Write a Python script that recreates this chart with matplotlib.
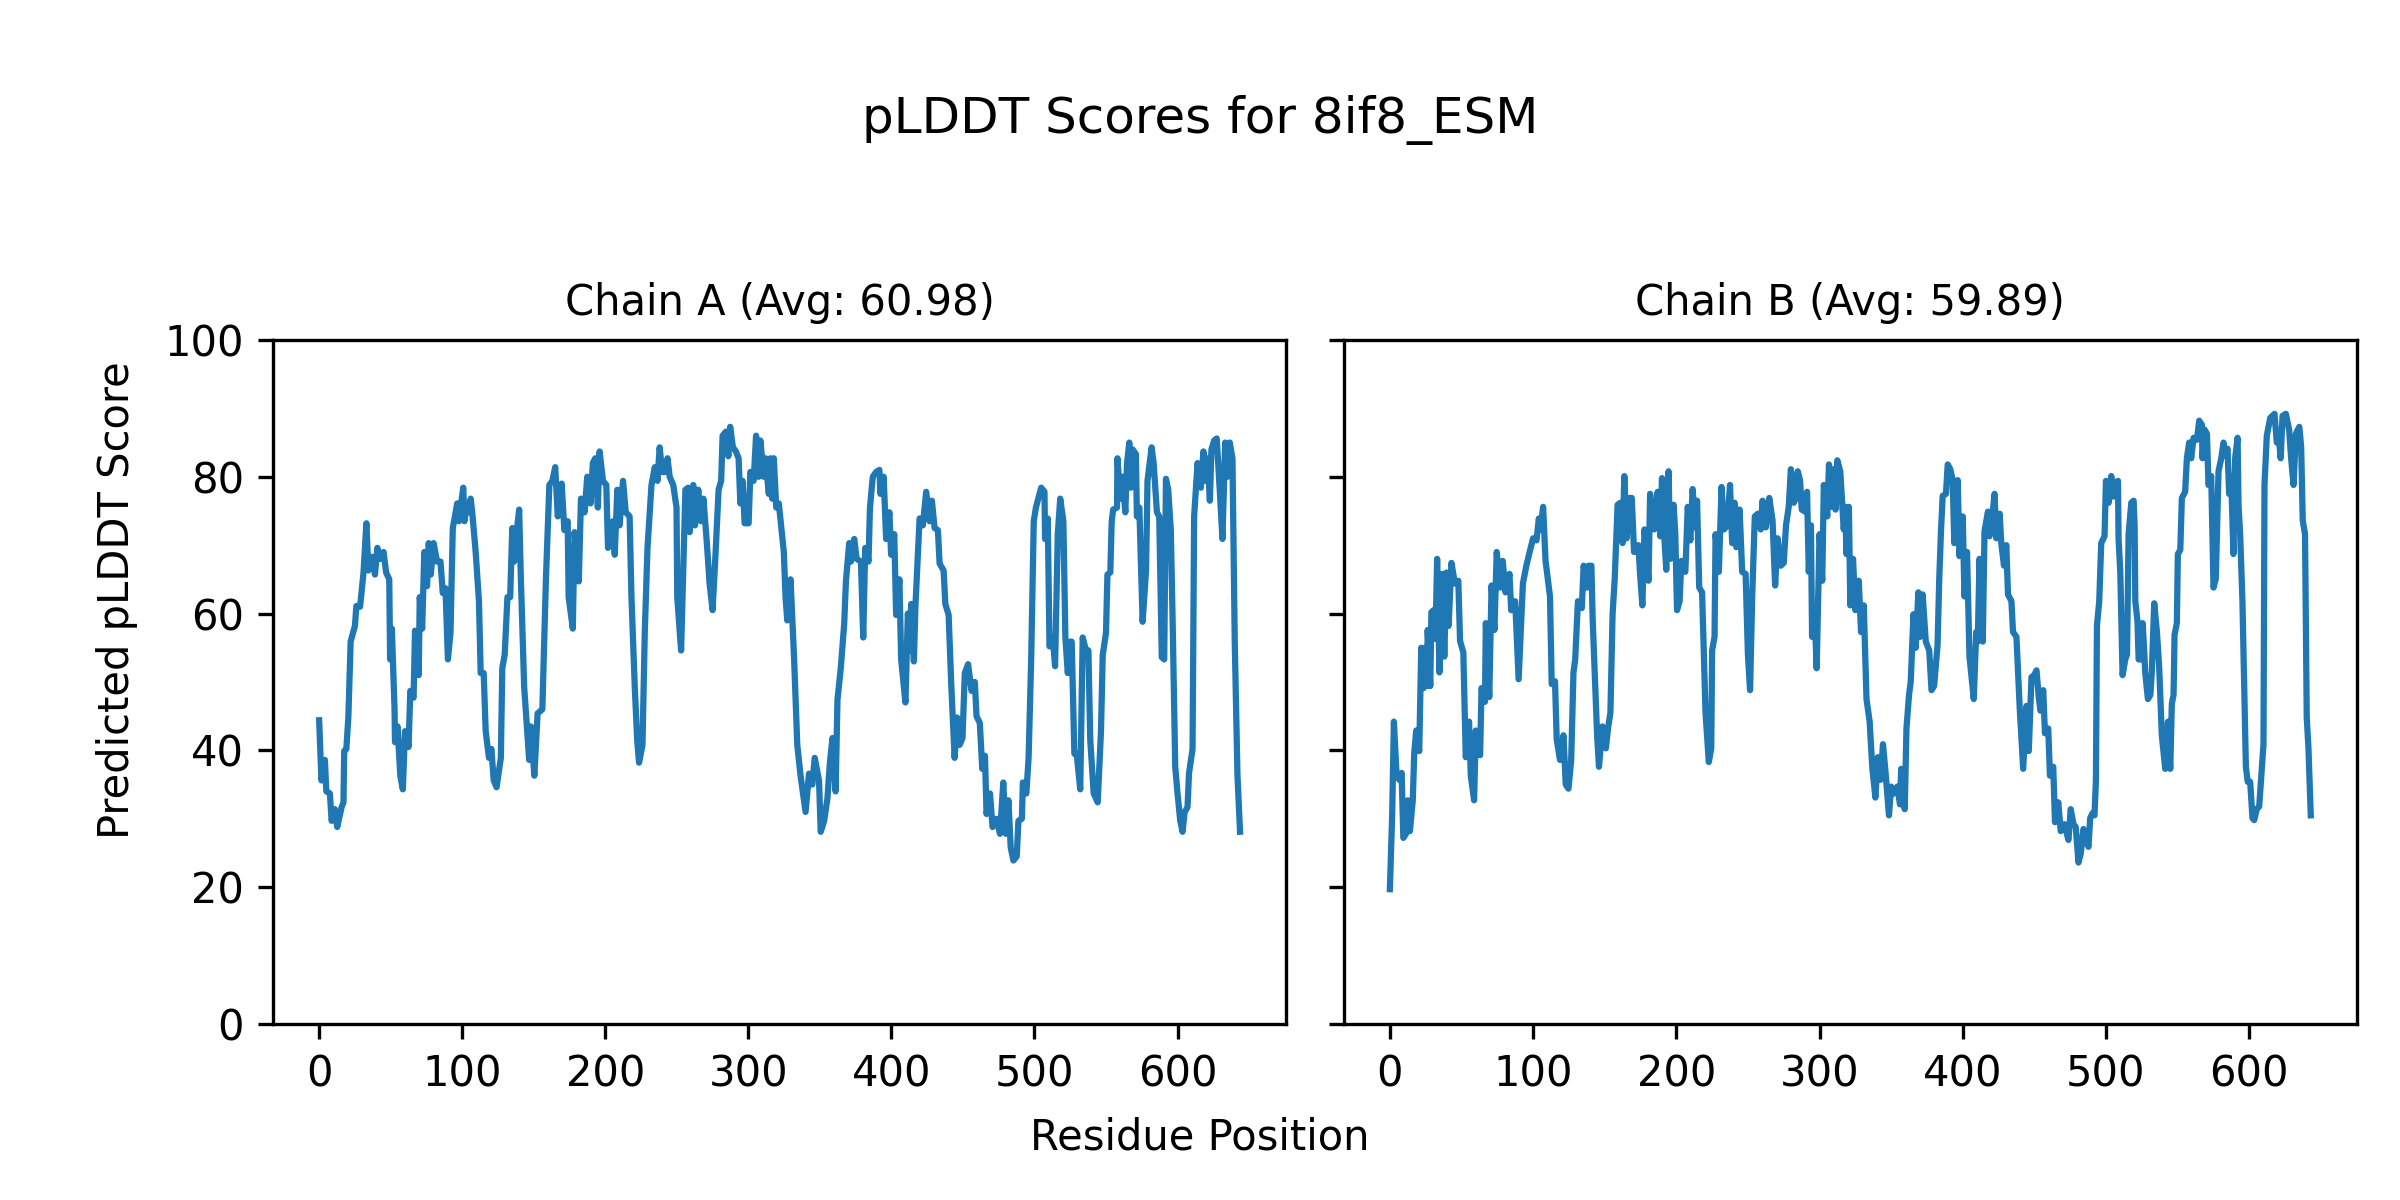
import matplotlib
matplotlib.use('Agg')
import matplotlib.pyplot as plt

# Datos (posicion del residuo, pLDDT)
chain_a_pos = [
    0, 1.6, 4, 5, 7.5, 8.7, 11, 12.6, 15.7, 17, 17.5, 19, 20.4, 22, 25, 26, 28.6, 31, 33, 34.4,
    36.8, 39, 40.7, 42.6, 45, 46.8, 49, 49.6, 50.8, 52.7, 53, 54.8, 56.7, 58.5, 60, 62.5, 63.7, 66, 67, 69.6,
    70.3, 72, 73.5, 75.4, 76.6, 78, 80, 82.4, 84.8, 86.4, 88.3, 90, 91.8, 93.4, 96.5, 97.7, 100.7, 101.6, 103, 104.7,
    105.9, 107, 109.4, 111.7, 112.9, 115, 116.4, 118.7, 120.4, 122, 124, 127, 128, 129.7, 131.6, 133.5, 135, 136.3, 138, 139.8,
    141, 143.3, 145, 146.8, 148, 150.4, 152.7, 156, 158.5, 160.9, 163, 165, 166.8, 169.5, 171.4, 173.7, 174.4, 177.3, 178.5, 181.5,
    183, 185.5, 187.4, 189.7, 191.3, 193, 194.8, 196, 198.4, 200.7, 201.9, 204, 205.4, 206.6, 208.4, 210, 212.4, 214.3, 217, 218.3,
    220.6, 222.3, 223.6, 226, 227.6, 229.5, 231, 232.3, 234.6, 236.5, 238, 239.8, 241.7, 243.5, 245, 247.5, 249.8, 250.3, 253, 254.5,
    256, 258, 259, 261.5, 262.7, 265, 266.9, 268.6, 271, 272.9, 275, 276.8, 279.2, 281, 282, 284.3, 286, 287.3, 289.2, 291.3,
    293.2, 294.4, 296, 297.4, 300.2, 301.4, 303.7, 305.4, 307.3, 308.4, 310.8, 312, 314.3, 315.5, 316.7, 317.8, 319.5, 321.3, 324.8, 326,
    327.2, 329.5, 332, 334.2, 336.5, 340, 342.4, 344.7, 346.4, 349.4, 350.6, 353, 355.3, 357, 358.8, 361, 362.3, 364.6, 367, 368.2,
    370.5, 371.7, 374, 375.7, 378.7, 380.3, 381.7, 384, 385, 387, 389.3, 391.6, 392.3, 394.6, 396.3, 398.6, 399.8, 402, 403.3, 405.6,
    406.8, 409.8, 411.5, 413, 413.8, 415.7, 416.8, 419.7, 422, 424.3, 426.7, 428.3, 430.2, 432.5, 433.7, 436.5, 437.7, 440, 441.9, 444.2,
    445.9, 447.7, 449.7, 451.3, 453.6, 456, 458.3, 459.5, 461.8, 463.5, 465.4, 466.5, 468.9, 470.7, 473.5, 475.9, 478.2, 480, 481.8, 483.4,
    485.3, 487.6, 488.8, 491.2, 491.9, 494.3, 495.9, 497.7, 499.5, 501, 503.5, 504.7, 507, 507.4, 509.3, 510.5, 512.8, 514.4, 516.3, 518,
    520.2, 521.6, 523.3, 525, 526, 527.9, 529.5, 532, 533.7, 536, 537.7, 539, 541.4, 544.2, 546.5, 547.7, 550, 551, 553, 554,
    555, 557.7, 558, 560, 561.6, 563.5, 564.7, 566.3, 567.4, 568.6, 570.9, 571.6, 573.3, 575.6, 578, 579, 581.9, 583.3, 585.6, 587.2,
    589, 590.7, 591.9, 593.5, 595.3, 596.5, 598.4, 600, 601.9, 603.5, 605, 607, 608, 610.5, 611.6, 614, 616.3, 618.1, 619.8, 621,
    622.6, 623.7, 625.6, 627.4, 629.5, 631.4, 633.3, 634.9, 636.5, 638.4, 640, 641.9, 643.7,
]
chain_a_score = [
    44.4, 35.6, 38.6, 34, 33.7, 29.7, 31.4, 28.8, 31.7, 32.4, 39.9, 40.2, 44.8, 55.9, 58.2, 61.1, 61, 66, 73.2, 66.3,
    68.3, 65.7, 69.6, 68, 69, 66, 65, 53.3, 57.8, 46, 41.2, 43.5, 36.3, 34.3, 42.8, 40.5, 48.7, 47.7, 57.5, 51,
    62.4, 57.8, 69, 64, 70.3, 65.7, 70.3, 67.6, 67.6, 63, 63.7, 53.3, 57.2, 72.5, 76.1, 73.5, 78.4, 73.5, 76, 74.8,
    76.8, 74.8, 69, 61.8, 51.3, 51.3, 42.8, 38.9, 40.2, 35.6, 34.6, 38.9, 52, 54, 62.4, 62.4, 72.5, 67.6, 71.9, 75.2,
    65, 49.3, 44, 38.6, 43.5, 36.3, 45.4, 46, 65, 78.8, 79.4, 81.4, 74.2, 79, 72.2, 73.5, 62.4, 57.8, 71.9, 64.7,
    76.8, 74.8, 80, 76.1, 82, 82.7, 75.5, 83.7, 79.4, 78.8, 69.6, 70.3, 73.5, 68.6, 78.1, 72.9, 79.4, 74.8, 74.2, 62.4,
    49.3, 41.5, 38.2, 40.8, 57.2, 69.6, 74.5, 78.8, 81.4, 79.4, 84.3, 80.7, 80.7, 82.7, 80, 78.8, 75.5, 62.4, 54.6, 66.3,
    78.1, 78.4, 71.9, 78.8, 72.9, 78.1, 73.5, 76.8, 70.3, 64.4, 60.5, 67.6, 78.1, 79.4, 86, 86.6, 83, 87.3, 84.3, 83.7,
    82.7, 76.1, 79.4, 73.2, 73.2, 80.7, 79.4, 86, 80, 85.3, 80, 82.7, 77.5, 82.7, 76.8, 82.7, 75.5, 76.1, 69, 62.4,
    59, 65, 53.3, 40.8, 36.3, 31, 36.6, 35, 38.9, 35.6, 28.1, 29.7, 33, 38.2, 41.8, 34, 47.4, 52, 58.5, 64.7,
    70.3, 67.6, 70.9, 68, 67.6, 56.5, 69.6, 67.6, 75.5, 80, 80.7, 81, 77.5, 80, 70.9, 74.8, 68.6, 71.6, 59.8, 65,
    53.3, 47, 60, 54.6, 61.4, 53, 61.1, 73.9, 72.9, 77.8, 73.5, 76.5, 72.5, 72.2, 67.3, 66.3, 61.4, 59.8, 49.3, 38.9,
    44.8, 40.8, 41.8, 51.3, 52.6, 48.7, 50, 45, 44, 37.3, 39.2, 30.7, 33.7, 28.8, 30, 27.8, 35.3, 27.8, 32.7, 25.8,
    23.9, 24.5, 29.7, 30, 35.3, 33.7, 38.9, 53.3, 73.5, 75.5, 77.5, 78.4, 77.8, 70.9, 73.9, 55.2, 56.5, 52.3, 71.6, 76.8,
    73.5, 56.5, 51.3, 55.9, 55.9, 39.5, 39.5, 34.3, 56.5, 54.6, 54.6, 41.5, 33.7, 32.4, 42.8, 53.9, 57.2, 65.7, 66, 73.5,
    75.2, 75.5, 82.7, 76.8, 80, 74.8, 82, 85, 78.4, 84, 83.3, 74.2, 75.5, 58.8, 66.3, 79.4, 84.3, 82, 74.8, 74.2,
    53.6, 53.3, 79.7, 78.1, 72.2, 59.8, 37.6, 33.7, 29.7, 28.1, 31, 31.7, 36.6, 40.2, 74.2, 82, 78.4, 83.7, 79.4, 82.7,
    76.5, 84, 85.3, 85.6, 78.1, 70.9, 85, 80, 85, 82.7, 55.9, 36.3, 28.1,
]

chain_b_pos = [
    0, 1.6, 2.8, 4.7, 6.6, 8.2, 9.4, 11.3, 12.5, 14, 16, 17, 18.4, 20.5, 21.9, 23.5, 24.7, 25.9, 26.4, 28.2,
    29, 30.6, 31.8, 33, 34.6, 36.5, 38, 39.5, 41, 43, 45.4, 47.8, 49, 51.3, 53, 55.3, 56.5, 58.8, 60, 63,
    64, 66.4, 67, 69.4, 71, 73, 74.6, 77, 78.8, 80.7, 83.5, 84.7, 87.5, 89.9, 92.9, 95.3, 97.6, 100, 102.4, 104,
    105.2, 107, 108.7, 111.8, 113, 115.3, 116.5, 118.8, 121.2, 122.8, 124.7, 126.6, 128.2, 129.4, 131.3, 134, 135.3, 137.6, 138.8, 140.7,
    141.6, 143, 144.7, 146, 148.4, 150.8, 152.5, 154, 155.5, 157, 159, 161, 162.5, 163.7, 165.3, 167.2, 168.9, 170.5, 173.5, 174.7,
    176.3, 177.8, 180.6, 181.7, 184.5, 187, 188.8, 190, 191.6, 193, 194.6, 195.8, 198.1, 199.3, 200.5, 202.3, 203.5, 206.3, 208, 209.8,
    211.4, 213.3, 214.5, 216, 218, 220.4, 222.7, 224.4, 225, 226.7, 227.4, 229.7, 231.6, 233.3, 235.6, 237.5, 239, 240.7, 241.9, 244.2,
    246, 248.4, 250, 251.5, 253, 254.8, 257, 259, 260.2, 262.5, 264.9, 267.2, 269, 270.7, 273, 275, 276.6, 278.5, 280, 282,
    283.6, 284.8, 286.4, 287.6, 289.9, 291.3, 292.5, 294, 294.8, 296.5, 298, 300, 301.9, 303, 305.4, 306.6, 308.7, 309.8, 311.2, 312.4,
    314.5, 316.9, 318, 318.8, 320.5, 321.5, 323.4, 325, 327.4, 329, 330.9, 332.8, 335, 336.8, 339, 340.7, 342.6, 344.3, 346, 348.5,
    350, 352, 354.3, 356.2, 357, 359.5, 360.7, 362.5, 363.7, 365.6, 367.2, 369, 370.3, 372, 374.2, 376.6, 378.2, 380, 382.4, 383.6,
    384.8, 386, 388.3, 389.5, 391.3, 393, 394.1, 396.5, 397.7, 400, 401.2, 403, 404.7, 407.7, 409.4, 410.5, 411.7, 414, 415.2, 417.6,
    418.7, 421, 422.2, 423.4, 425.8, 426.9, 428.8, 430.4, 431.6, 434, 435.1, 437.5, 439.8, 442.2, 444.5, 446.1, 448, 449.9, 451.5, 453.2,
    454.3, 456.2, 457.4, 459.7, 460.9, 463.2, 464.4, 466.7, 468.4, 471, 473.8, 475.4, 477.3, 478.9, 480.8, 482.4, 484.3, 485.9, 487.8, 489,
    490.6, 492, 493, 493.7, 495.3, 496.7, 499, 500, 501.9, 503.7, 505.3, 506.5, 508.4, 508.8, 510, 511.6, 513.5, 514.7, 515.8, 517.7,
    519.3, 520, 520.5, 522, 522.8, 524.7, 525.6, 526.7, 527.4, 529.3, 531, 532, 533.7, 535.6, 537.2, 539, 541.4, 543.3, 544.9, 546,
    547.2, 547.9, 549.5, 550.2, 551.9, 553, 555.3, 556.5, 558.1, 559.5, 561.2, 563.5, 565.1, 567, 567.4, 568.8, 570.5, 571.6, 573.5, 575.1,
    576.7, 578.6, 580.5, 582.1, 583.3, 584.9, 586, 587.4, 589, 590.2, 591.9, 592.6, 593.7, 595.3, 597.7, 599, 600.7, 602.3, 603.5, 605.3,
    607, 610, 610.7, 612.3, 614.7, 617.7, 619.3, 621, 622, 623.3, 625.6, 627.9, 629.3, 631, 632.6, 635, 636.3, 637.4, 639, 640.2,
    641.4, 643,
]
chain_b_score = [
    19.7, 30.5, 44.2, 36.3, 35.7, 36.7, 27.2, 27.8, 32.7, 28.2, 32.7, 39.6, 42.9, 39.9, 55, 49.1, 55, 49.4, 57.6, 49.4,
    60.2, 60.5, 56.3, 68, 51.4, 65.8, 53.7, 66, 58.2, 67.4, 64.4, 64.8, 56, 54.3, 39, 44.2, 36.3, 32.7, 42.9, 39.3,
    49.1, 47.1, 58.6, 47.8, 64.1, 57.6, 69, 63.8, 67.7, 63.1, 65.8, 60.5, 61.8, 50.4, 64.4, 67, 69, 71, 70.7, 73.9,
    72.3, 75.6, 67.7, 62.5, 49.7, 50.1, 41.6, 38.6, 42.2, 35, 34.4, 38.6, 51.4, 53.3, 61.8, 60.8, 67, 63.8, 67, 67,
    59.2, 51.4, 42.2, 37.6, 43.5, 40.3, 43.5, 45.5, 59.9, 65.1, 75.9, 76.2, 70.3, 80.1, 71, 76.9, 76.9, 69, 70, 65.8,
    61.2, 72.3, 64.8, 77.5, 72.3, 77.8, 71.3, 79.8, 71.3, 66.4, 80.8, 68, 75.9, 71.6, 60.5, 61.8, 67.7, 66.1, 75.6, 70.7,
    78.2, 72.6, 76.5, 63.8, 63.1, 45.5, 38.3, 40.3, 54.6, 56.6, 71.6, 66.1, 78.5, 72.3, 72.9, 78.8, 70.3, 76.2, 69.7, 75.2,
    66.1, 65.8, 54, 48.8, 62.5, 74.2, 74.6, 72.3, 76.5, 72.6, 76.9, 73.6, 64.1, 71, 67, 67.4, 72.9, 75.6, 81.1, 76.2,
    76.9, 80.8, 79.5, 75.2, 74.9, 77.8, 66.1, 72.9, 56.6, 60.5, 52, 71.6, 64.8, 78.8, 74.2, 81.8, 75.6, 81.1, 75.2, 82.4,
    80.8, 72.3, 75.6, 68.7, 75.6, 61.2, 68, 60.5, 64.8, 57.3, 61.2, 47.5, 44.2, 37.6, 33.1, 39, 35.7, 40.9, 37, 30.5,
    34.7, 33.7, 34.7, 32.1, 37.3, 31.4, 43.2, 48.1, 50.1, 59.9, 55, 63.1, 56.6, 62.8, 55.9, 54.6, 48.8, 49.4, 55.3, 65.1,
    72, 77.2, 77.5, 81.8, 81.1, 79.5, 70.3, 79.5, 68.4, 74.2, 62.5, 69, 53.7, 47.5, 57.3, 55.9, 68, 55.9, 72, 74.9,
    71.3, 74.9, 77.5, 71, 74.6, 70.3, 67, 70, 62.8, 61.8, 57.3, 56.6, 46.1, 37.3, 46.5, 39.9, 50.7, 51, 51.7, 47.5,
    45.8, 48.8, 42.5, 43.2, 36.3, 37.6, 29.5, 32.4, 28.2, 29.2, 26.9, 31.4, 29.2, 28.8, 23.6, 24.9, 28.5, 27.2, 25.9, 30.1,
    30.8, 30.5, 35.7, 58.2, 61.8, 70.3, 71.3, 79.4, 76.2, 80.1, 77.1, 79.1, 79.4, 71, 66.1, 51, 53.3, 54, 71.6, 76.2,
    76.5, 72.9, 61.8, 58.9, 53.3, 53.3, 58.6, 54.6, 51.4, 47.5, 48.1, 51.4, 61.5, 57.3, 52, 42.2, 37.3, 44.2, 37.3, 46.8,
    48.1, 56.9, 58.6, 68.7, 69.3, 76.9, 77.8, 82.7, 85, 82.7, 85.7, 85.4, 88.2, 87.6, 82.7, 86.9, 86.3, 78.8, 80.1, 63.8,
    65.1, 80.8, 82.7, 85, 83.1, 84.1, 77.5, 80.1, 68.7, 82.7, 85.7, 75.6, 71.6, 61.8, 37.6, 35.4, 35.4, 30.1, 29.8, 31.4,
    31.8, 40.9, 78.8, 86, 88.6, 89.2, 85, 85, 82.7, 88.9, 89.2, 86.9, 82.7, 78.8, 86.3, 87.3, 84.4, 73.6, 71.6, 44.8,
    40.3, 30.5,
]

chain_names = ['A', 'B']
chain_avgs = [60.98, 59.89]
protein = '8if8_ESM'

# Figura con dos paneles que comparten el eje y
fig, axes = plt.subplots(1, 2, figsize=(8, 4), dpi=300, sharey=True)
fig.subplots_adjust(left=0.1138, right=0.982, bottom=0.1467, top=0.7167, wspace=0.057)

series = [(chain_a_pos, chain_a_score), (chain_b_pos, chain_b_score)]
for ax, name, avg, (pos, score) in zip(axes, chain_names, chain_avgs, series):
    ax.plot(pos, score)
    ax.set_title(f'Chain {name} (Avg: {avg:.2f})', fontsize=10)
    ax.set_ylim(0, 100)

fig.suptitle(f'pLDDT Scores for {protein}', fontsize=12, y=0.9, va='center')
fig.supxlabel('Residue Position', fontsize=10, y=0.052, va='center')
fig.supylabel('Predicted pLDDT Score', fontsize=10, x=0.04, ha='left')

plt.savefig('out.png')
